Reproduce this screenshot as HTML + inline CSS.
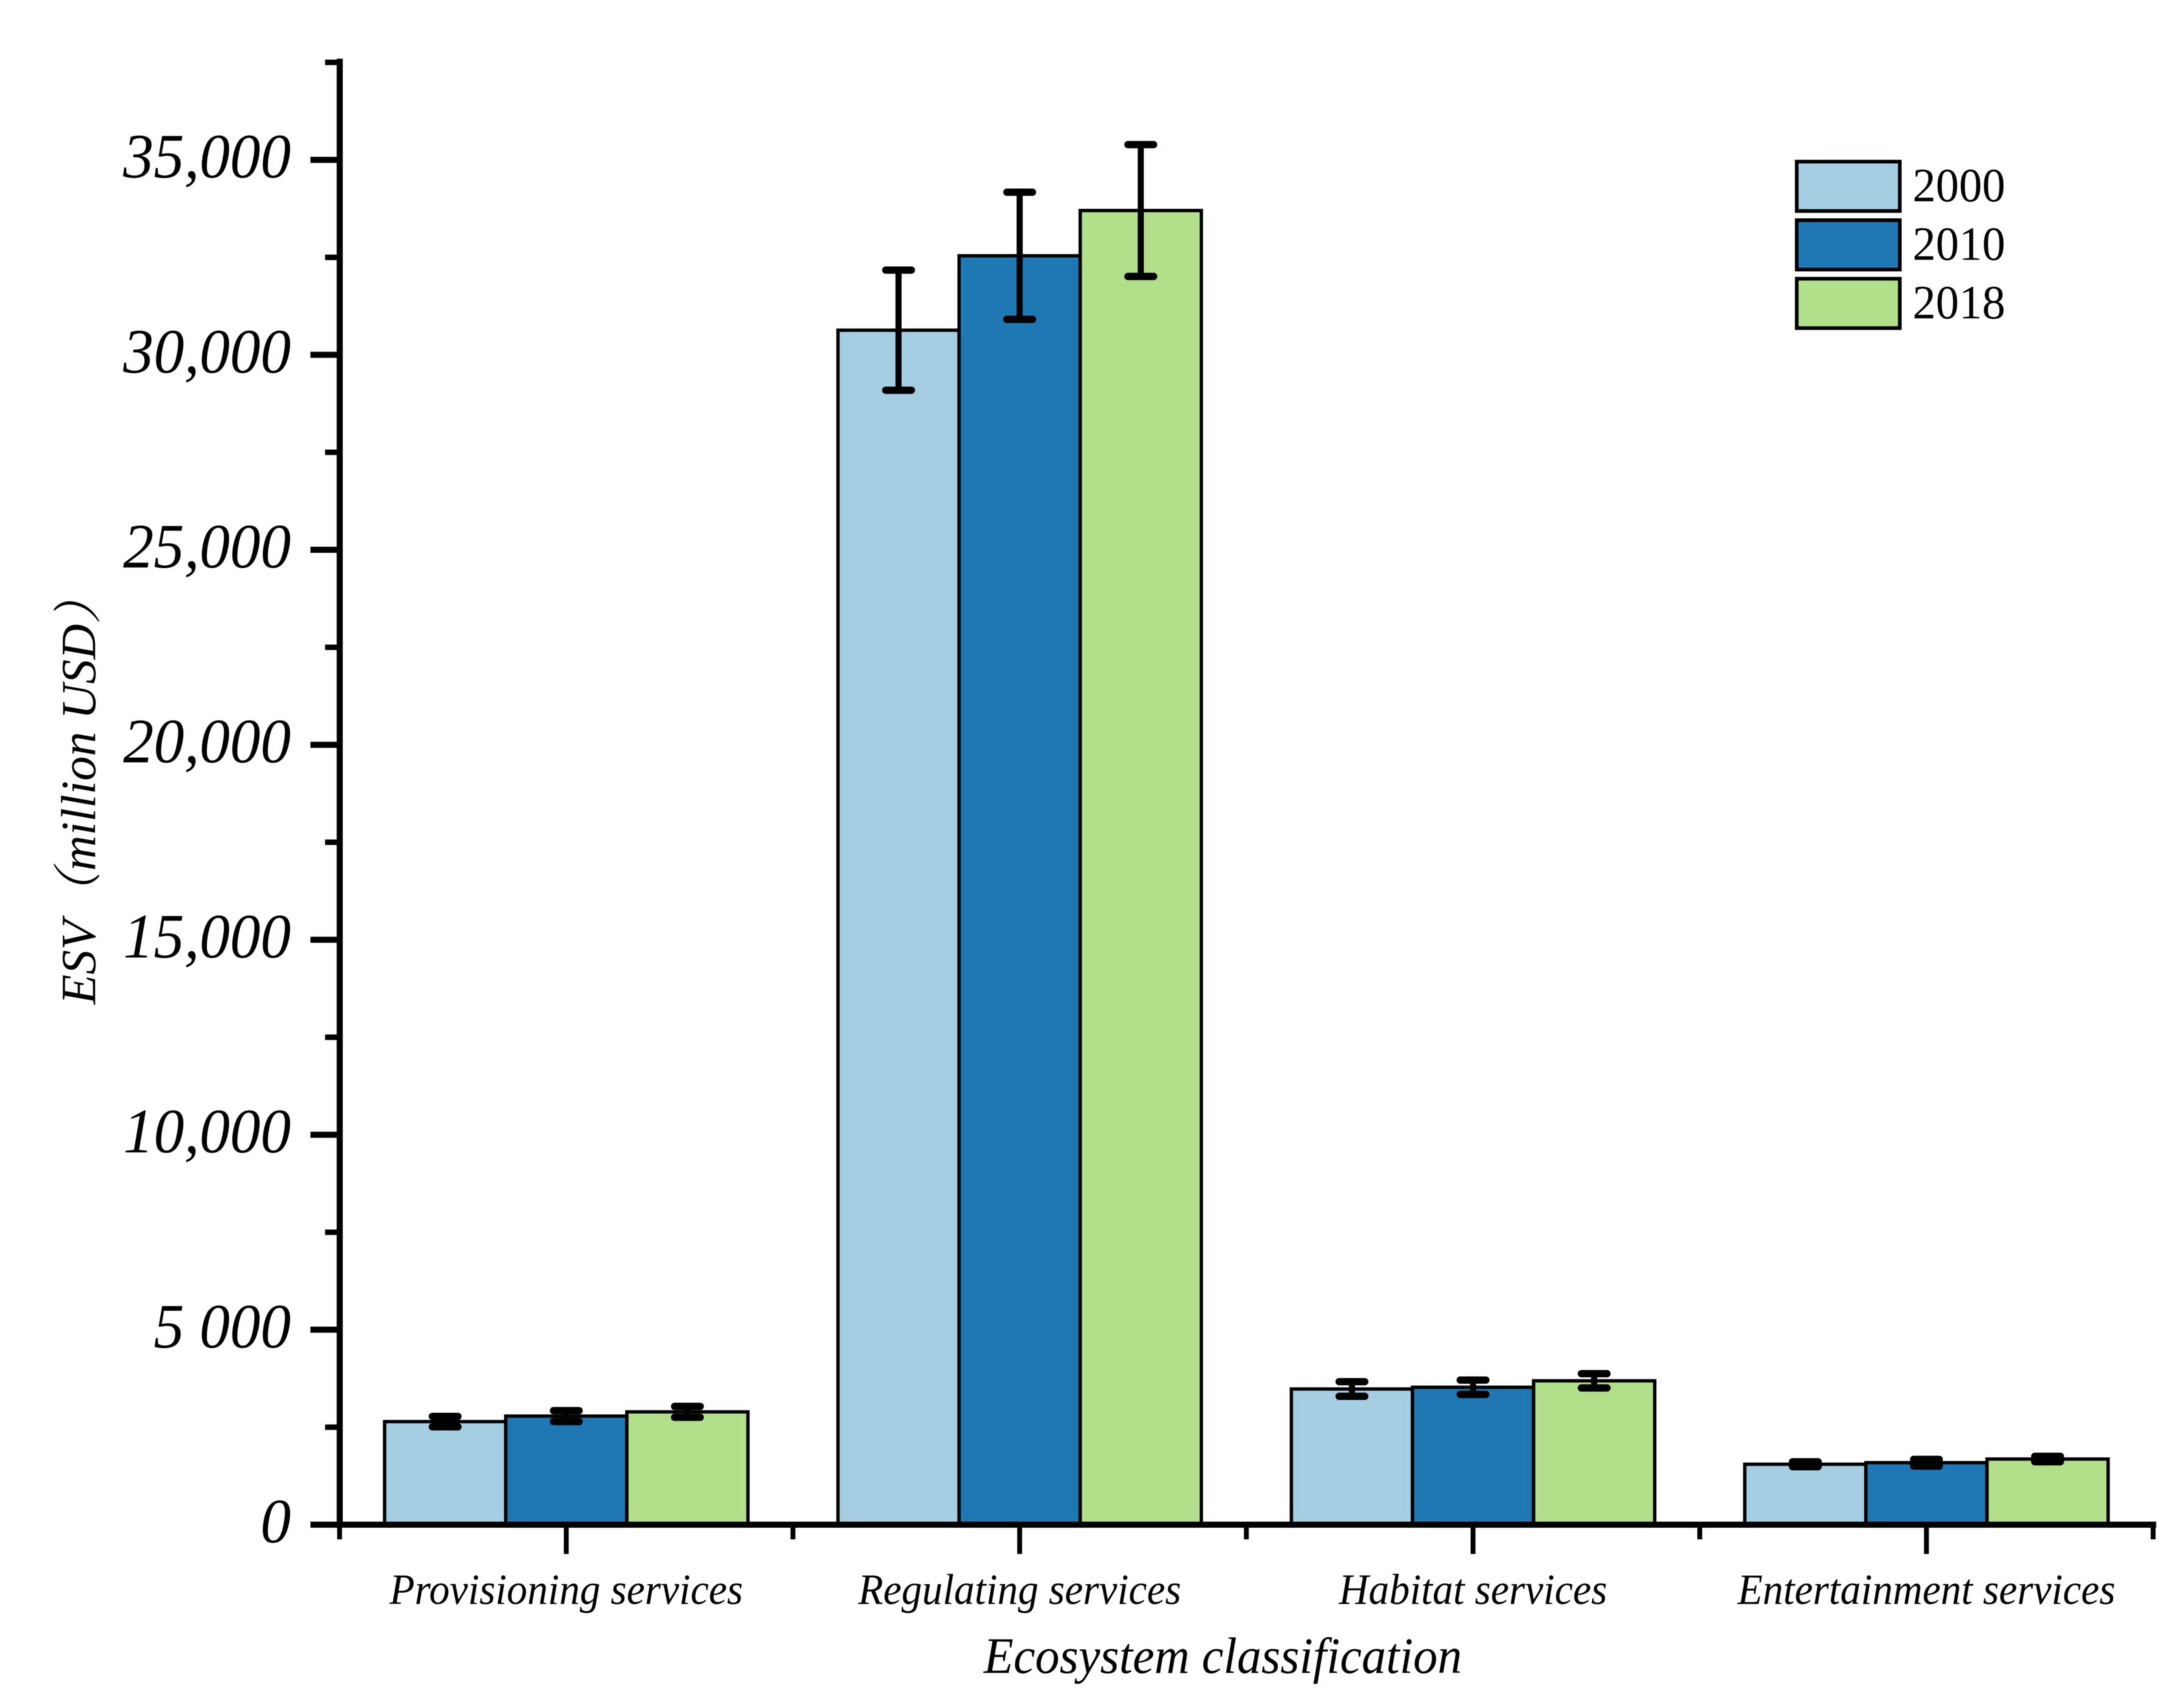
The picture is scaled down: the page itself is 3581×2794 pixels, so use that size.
<!DOCTYPE html>
<html lang="en">
<head>
<meta charset="utf-8">
<title>ESV by ecosystem classification</title>
<style>
  html, body { margin: 0; padding: 0; background: #ffffff; }
  svg { display: block; filter: blur(0.8px); }
  text { font-family: "Liberation Serif", "Noto Serif CJK SC", serif; fill: #000; }
  .it { font-style: italic; }
</style>
</head>
<body>
<svg id="chart" xmlns="http://www.w3.org/2000/svg" width="3581" height="2794" viewBox="0 0 3581 2794">
  <rect x="0" y="0" width="3581" height="2794" fill="#ffffff"/>
  <g id="bars"></g>
  <g id="errors"></g>
  <g id="axes"></g>
  <g id="legend"></g>
  <text class="it" transform="translate(2005,2743) scale(1,1.04)" font-size="80" text-anchor="middle">Ecosystem classification</text>
  <text class="it" transform="translate(156,1647) rotate(-90)" font-size="80.5">ESV（million USD）</text>
</svg>
<script>
const categories = ["Provisioning services", "Regulating services", "Habitat services", "Entertainment services"];
const years = ["2000", "2010", "2018"];
const values2000 = [2644, 30632, 3480, 1550];
const values2010 = [2785, 32540, 3525, 1590];
const values2018 = [2894, 33700, 3690, 1684];
const errors2000 = [133, 1540, 188, 63];
const errors2010 = [140, 1630, 183, 86];
const errors2018 = [140, 1690, 183, 70];
const majorTicks = [0, 5000, 10000, 15000, 20000, 25000, 30000, 35000];
const minorTicks = [2500, 7500, 12500, 17500, 22500, 27500, 32500, 37500];
const tickLabels = ["0", "5 000", "10,000", "15,000", "20,000", "25,000", "30,000", "35,000"];

const colors = ["#a6cee3", "#1f78b4", "#b2df8a"];
const seriesValues = [values2000, values2010, values2018];
const seriesErrors = [errors2000, errors2010, errors2018];

const NS = "http://www.w3.org/2000/svg";
const AXIS_X = 557, AXIS_Y = 2500, PER_UNIT = 319.7 / 5000;
const GROUP_STEP = 743.4, FIRST_GROUP = 928.5, BAR_W = 198.6;

function yScale(v) { return AXIS_Y - v * PER_UNIT; }
function xScale(i) { return FIRST_GROUP + i * GROUP_STEP; }
function barLeft(i, s) { return xScale(i) + (s - 1.5) * BAR_W; }

function make(parent, tag, props, content) {
  const el = document.createElementNS(NS, tag);
  for (const k in props) el.setAttribute(k, props[k]);
  if (content !== undefined) el.textContent = content;
  parent.appendChild(el);
  return el;
}

const barsG = document.getElementById("bars");
const errorsG = document.getElementById("errors");
const axesG = document.getElementById("axes");
const legendG = document.getElementById("legend");

seriesValues.forEach(function (vals, s) {
  vals.forEach(function (v, i) {
    const top = yScale(v);
    const bar = make(barsG, "rect", {
      x: barLeft(i, s), y: top, width: BAR_W, height: AXIS_Y - top,
      fill: colors[s], stroke: "#000", "stroke-width": 5.5
    });
    
    
    bar.setAttribute('data-series', years[s]);
    bar.setAttribute('data-category', categories[i]);
  });
});

seriesValues.forEach(function (vals, s) {
  vals.forEach(function (v, i) {
    const cx = barLeft(i, s) + BAR_W / 2;
    const e = seriesErrors[s][i];
    const hi = yScale(v + e), lo = yScale(v - e);
    const g = make(errorsG, "g", {});
    
    
    make(g, "line", { x1: cx, x2: cx, y1: hi, y2: lo, stroke: "#000", "stroke-width": 10 });
    make(g, "line", { x1: cx - 21, x2: cx + 21, y1: hi, y2: hi, stroke: "#000", "stroke-width": 12, "stroke-linecap": "round" });
    make(g, "line", { x1: cx - 21, x2: cx + 21, y1: lo, y2: lo, stroke: "#000", "stroke-width": 12, "stroke-linecap": "round" });
  });
});

const yAxisLine = make(axesG, "line", { x1: AXIS_X, x2: AXIS_X, y1: yScale(37500) - 6, y2: AXIS_Y + 4, stroke: "#000", "stroke-width": 10 });



const xAxisLine = make(axesG, "line", { x1: 509, x2: xScale(3) + GROUP_STEP / 2 + 5, y1: AXIS_Y, y2: AXIS_Y, stroke: "#000", "stroke-width": 10 });



majorTicks.forEach(function (v, i) {
  const y = yScale(v);
  const tick = make(axesG, "line", { x1: 509, x2: AXIS_X, y1: y, y2: y, stroke: "#000", "stroke-width": 10 });
  
  
  const label = make(axesG, "text", { transform: "translate(477," + (y + 29) + ") scale(1,1.04)", "font-size": 100, "font-style": "italic", "text-anchor": "end" }, tickLabels[i]);
  
  
});

minorTicks.forEach(function (v) {
  const y = yScale(v);
  const tick = make(axesG, "line", { x1: 533, x2: AXIS_X, y1: y, y2: y, stroke: "#000", "stroke-width": 9 });
  
  
});

categories.forEach(function (c, i) {
  const x = xScale(i);
  const tick = make(axesG, "line", { x1: x, x2: x, y1: AXIS_Y, y2: 2548, stroke: "#000", "stroke-width": 8 });
  
  
  const label = make(axesG, "text", { transform: "translate(" + x + ",2630) scale(1,1.05)", "font-size": 67.4, "font-style": "italic", "text-anchor": "middle" }, c);
  
  
});

for (let i = 0; i <= categories.length; i++) {
  const x = xScale(i) - GROUP_STEP / 2;
  const tick = make(axesG, "line", { x1: x, x2: x, y1: AXIS_Y, y2: 2524, stroke: "#000", "stroke-width": 8 });
  
  
}

years.forEach(function (yr, s) {
  const g = make(legendG, "g", {});
  
  
  const top = 263 + s * 96;
  const swatch = make(g, "rect", { x: 2946, y: top + 2, width: 169, height: 81, fill: colors[s], stroke: "#000", "stroke-width": 6 });
  
  
  const label = make(g, "text", { transform: "translate(3136," + (top + 67) + ") scale(1,1.03)", "font-size": 76 }, yr);
  
  
});
</script>
</body>
</html>
